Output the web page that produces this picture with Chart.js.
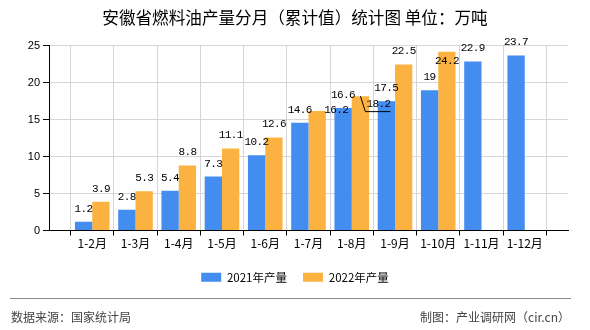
<!DOCTYPE html>
<html>
<head>
<meta charset="utf-8">
<script src="https://cdn.jsdelivr.net/npm/chart.js@4.4.1/dist/chart.umd.min.js"></script>
<style>
  html, body { margin: 0; padding: 0; background: #fff; }
  #wrap { position: relative; width: 590px; height: 330px; }
  #footLine { position: absolute; left: 10px; top: 298px; width: 561px; height: 0; border-top: 1px solid #8a8a8a; }
  .foot { position: absolute; top: 308px; font: 12px "Noto Sans CJK SC", sans-serif; color: #444; line-height: 17px; white-space: nowrap; }
  #src { left: 11px; }
  #maker { right: 20px; }
</style>
</head>
<body>
<div id="wrap">
  <canvas id="chart" width="590" height="330"></canvas>
  <div id="footLine"></div>
  <div class="foot" id="src">数据来源：国家统计局</div>
  <div class="foot" id="maker">制图：产业调研网（cir.cn）</div>
</div>
<script>
const months = ["1-2月", "1-3月", "1-4月", "1-5月", "1-6月", "1-7月", "1-8月", "1-9月", "1-10月", "1-11月", "1-12月"];
const output2021 = [1.2, 2.8, 5.4, 7.3, 10.2, 14.6, 16.6, 17.5, 19, 22.9, 23.7];
const output2022 = [3.9, 5.3, 8.8, 11.1, 12.6, 16.2, 18.2, 22.5, 24.2, null, null];
const yTicks = [0, 5, 10, 15, 20, 25];

// labels that were pushed off their bar in the original
const labelShift = {
  "2022年产量|1-7月": [19, 12],
  "2022年产量|1-8月": [18, 21, true],
  "2022年产量|1-10月": [0, 22]
};

const ctx = document.getElementById("chart").getContext("2d");

// empty slot at each end so the bars sit on the grid lines
const labels = [""].concat(months, [""]);
const pad = arr => [null].concat(arr, [null]);

const valueLabels = {
  id: "valueLabels",
  afterDatasetsDraw(chart) {
    const c = chart.ctx;
    c.save();
    c.font = '11px "Liberation Mono", monospace';
    c.letterSpacing = "-0.6px";
    c.fillStyle = "#000";
    c.textAlign = "center";
    c.textBaseline = "middle";
    chart.data.datasets.forEach((ds, di) => {
      chart.getDatasetMeta(di).data.forEach((bar, i) => {
        const v = ds.data[i];
        if (v === null || v === undefined) return;
        const shift = labelShift[ds.label + "|" + labels[i]] || [0, 0];
        const x = bar.x + shift[0];
        const y = bar.y - 13 + shift[1];
        if (shift[2]) {
          c.strokeStyle = "#000";
          c.lineWidth = 1;
          c.beginPath();
          c.moveTo(bar.x, bar.y);
          c.lineTo(bar.x + 5, y + 7.5);
          c.lineTo(x + 12, y + 7.5);
          c.stroke();
        }
        c.fillText(String(v), x, y);
      });
    });
    c.restore();
  }
};

new Chart(ctx, {
  type: "bar",
  data: {
    labels: labels,
    datasets: [
      { label: "2021年产量", data: pad(output2021), backgroundColor: "#428DEF" },
      { label: "2022年产量", data: pad(output2022), backgroundColor: "#FBB241" }
    ]
  },
  options: {
    responsive: false,
    animation: false,
    datasets: { bar: { categoryPercentage: 0.8, barPercentage: 1 } },
    layout: { padding: { left: 0, right: 0, top: 0, bottom: 37 } },
    plugins: {
      tooltip: { enabled: false },
      title: {
        display: true,
        text: "安徽省燃料油产量分月（累计值）统计图 单位：万吨",
        color: "#000",
        font: { family: '"Noto Sans CJK SC", sans-serif', size: 16.6, weight: "normal" },
        padding: { top: 8, bottom: 18 }
      },
      legend: {
        position: "bottom",
        labels: {
          color: "#000",
          font: { family: '"Noto Sans CJK SC", sans-serif', size: 11.5 },
          boxWidth: 20,
          boxHeight: 9,
          padding: 16
        }
      }
    },
    scales: {
      x: {
        offset: false,
        grid: { color: "#d6d6d6", tickColor: "#000", tickLength: 5 },
        border: { color: "#000", width: 1 },
        ticks: {
          autoSkip: false,
          maxRotation: 0,
          padding: 1,
          color: "#000",
          font: { family: '"Noto Sans CJK SC", sans-serif', size: 12 }
        },
        afterFit(axis) { axis.height = 25; }
      },
      y: {
        min: 0,
        max: 25,
        afterBuildTicks(axis) { axis.ticks = yTicks.map(v => ({ value: v })); },
        grid: { color: "#d6d6d6", tickColor: "#000", tickLength: 6 },
        border: { color: "#000", width: 1 },
        ticks: {
          padding: 3,
          color: "#000",
          font: { family: '"Liberation Sans", sans-serif', size: 11 }
        },
        afterFit(axis) { axis.width = 49; }
      },
      // empty right margin, kept as an axis so the legend stays centred on the page
      spacer: {
        position: "right",
        grid: { display: false },
        border: { display: false },
        ticks: { display: false },
        afterFit(axis) { axis.width = 22; }
      }
    }
  },
  plugins: [valueLabels]
});
</script>
</body>
</html>
